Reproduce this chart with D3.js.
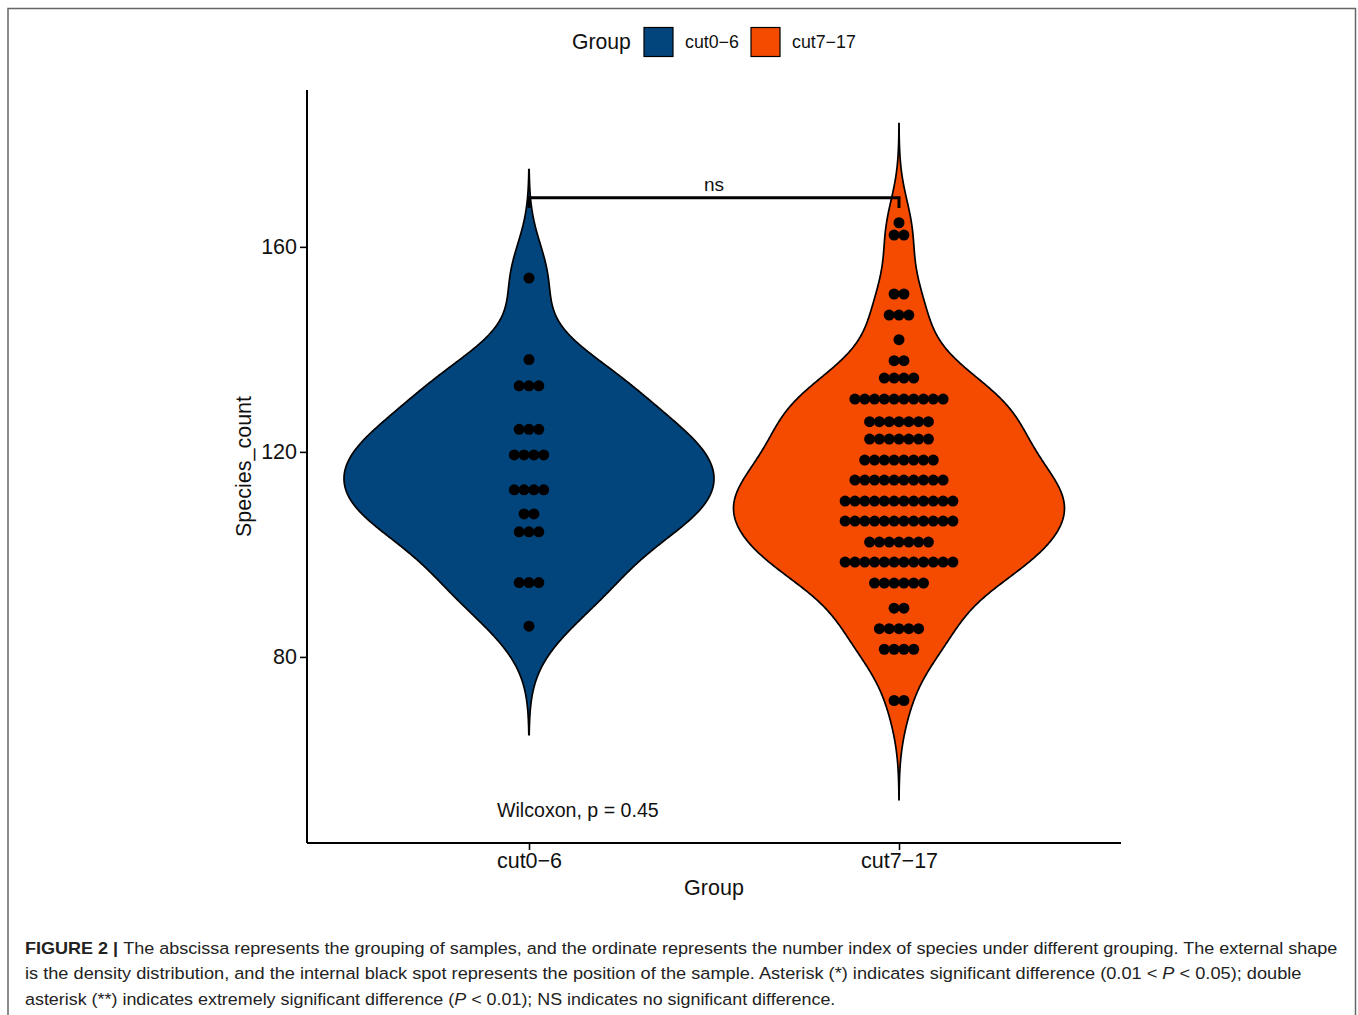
<!DOCTYPE html>
<html>
<head>
<meta charset="utf-8">
<script src="https://cdn.jsdelivr.net/npm/d3@7"></script>
<style>
  html, body { margin: 0; padding: 0; background: #fff; }
  svg { display: block; font-family: "Liberation Sans", Arial, sans-serif; }
</style>
</head>
<body>
<div id="app"></div>
<script>
// groups and colours
const groups = ['cut0-6', 'cut7-17'];
const groupLabels = ['cut0\u22126', 'cut7\u221217'];
const groupColors = ['#02457c', '#f44b00'];

// dot rows: binned Species_count value and how many samples sit in that bin
const rowsCut0 = [153.9, 138.0, 132.9, 124.4, 119.4, 112.6, 107.9, 104.4, 94.5, 86.0];
const countsCut0 = [1, 1, 3, 3, 4, 4, 2, 3, 3, 1];

const rowsCut7 = [164.7, 162.3, 150.8, 146.7, 141.9, 137.8, 134.4, 130.3, 125.9, 122.5, 118.4,
  114.5, 110.4, 106.5, 102.4, 98.5, 94.4, 89.5, 85.5, 81.5, 71.5];
const countsCut7 = [1, 2, 2, 3, 1, 2, 4, 10, 7, 7, 8, 10, 12, 12, 7, 12, 6, 2, 5, 4, 2];

const yTicks = [80, 120, 160];

// comparison bracket
const compareGroups = ['cut0-6', 'cut7-17'];
const compareLabel = 'ns';
const compareY = 169.6;
const compareTip = 2.0;
const testLabel = 'Wilcoxon, p = 0.45';
const testLabelY = 50.2;

const captionLines = [
  [['FIGURE 2 | ', 'b'], ['The abscissa represents the grouping of samples, and the ordinate represents the number index of species under different grouping. The external shape', '']],
  [['is the density distribution, and the internal black spot represents the position of the sample. Asterisk (*) indicates significant difference (0.01 < ', ''], ['P', 'i'], [' < 0.05); double', '']],
  [['asterisk (**) indicates extremely significant difference (', ''], ['P', 'i'], [' < 0.01); NS indicates no significant difference.', '']]
];
const captionWidths = [1314, 1277, 811];

const W = 1358, H = 1015;

const svg = d3.select('#app').append('svg')
  .attr('width', W)
  .attr('height', H);

// figure frame
svg.append('rect')
  .attr('x', 8).attr('y', 8.5)
  .attr('width', 1347.5).attr('height', 1020)
  .attr('fill', 'none')
  .attr('stroke', '#666')
  .attr('stroke-width', 1.5);

const x = d3.scalePoint()
  .domain(groups)
  .range([307, 1121])
  .padding(0.6);

const y = d3.scaleLinear()
  .domain([43.7, 190.6])
  .range([843, 90]);

//////////DENSITY//////////
function expand(rows, counts) {
  const out = [];
  rows.forEach((v, i) => { for (let k = 0; k < counts[i]; k++) out.push(v); });
  return out;
}

function nrd0(vals) {
  const s = vals.slice().sort(d3.ascending);
  const sd = d3.deviation(s);
  const iqr = (d3.quantile(s, 0.75) - d3.quantile(s, 0.25)) / 1.34;
  return 0.9 * Math.min(sd, iqr) * Math.pow(s.length, -0.2);
}

function kde(vals) {
  const bw = nrd0(vals);
  const lo = d3.min(vals) - 3 * bw, hi = d3.max(vals) + 3 * bw;
  const n = 512;
  const pts = [];
  for (let i = 0; i < n; i++) {
    const v = lo + (hi - lo) * i / (n - 1);
    let s = 0;
    for (const d of vals) {
      const z = (v - d) / bw;
      s += Math.exp(-0.5 * z * z);
    }
    pts.push({ v: v, d: s / (vals.length * bw * Math.sqrt(2 * Math.PI)) });
  }
  return pts;
}

const series = [
  { g: groups[0], rows: rowsCut0, counts: countsCut0, color: groupColors[0] },
  { g: groups[1], rows: rowsCut7, counts: countsCut7, color: groupColors[1] }
];
series.forEach(s => { s.dens = kde(expand(s.rows, s.counts)); });

const maxDens = d3.max(series, s => d3.max(s.dens, p => p.d));
const halfW = d3.scaleLinear().domain([0, maxDens]).range([0, x.step() / 2]);

//////////VIOLINS//////////
series.forEach(s => {
  const cx = x(s.g);
  const area = d3.area()
    .y(p => y(p.v))
    .x0(p => cx - halfW(p.d))
    .x1(p => cx + halfW(p.d));
  svg.append('path')
    .datum(s.dens)
    .attr('d', area)
    .attr('fill', s.color)
    .attr('stroke', '#000')
    .attr('stroke-width', 1.7);
});

//////////DOTS//////////
const dotR = 5.5;
const dotStep = 9.8;
series.forEach(s => {
  const cx = x(s.g);
  const dots = [];
  s.rows.forEach((v, i) => {
    const k = s.counts[i];
    for (let j = 0; j < k; j++) dots.push({ v: v, off: j - (k - 1) / 2 });
  });
  svg.append('g').selectAll('circle')
    .data(dots)
    .join('circle')
    .attr('cx', d => cx + d.off * dotStep)
    .attr('cy', d => y(d.v))
    .attr('r', dotR)
    .attr('fill', '#000');
});

//////////BRACKET//////////
const bx0 = x(compareGroups[0]), bx1 = x(compareGroups[1]);
svg.append('path')
  .attr('d', `M${bx0},${y(compareY - compareTip)}V${y(compareY)}H${bx1}V${y(compareY - compareTip)}`)
  .attr('fill', 'none')
  .attr('stroke', '#000')
  .attr('stroke-width', 3);

svg.append('text')
  .attr('x', (bx0 + bx1) / 2)
  .attr('y', y(compareY) - 7)
  .attr('text-anchor', 'middle')
  .attr('font-size', 19)
  .attr('fill', '#111')
  .text(compareLabel);

svg.append('text')
  .attr('x', x(groups[0]) - 32)
  .attr('y', y(testLabelY))
  .attr('dy', '0.35em')
  .attr('font-size', 19.6)
  .attr('fill', '#111')
  .text(testLabel);

//////////AXES//////////
const yAxis = svg.append('g')
  .attr('transform', 'translate(307,0)')
  .call(d3.axisLeft(y).tickValues(yTicks).tickSize(7).tickPadding(3));

const xAxis = svg.append('g')
  .attr('transform', 'translate(0,843)')
  .call(d3.axisBottom(x).tickSize(7).tickPadding(3).tickFormat((d, i) => groupLabels[i]));

[yAxis, xAxis].forEach(a => {
  a.select('.domain').attr('stroke', '#000').attr('stroke-width', 2);
  a.selectAll('.tick line').attr('stroke', '#000').attr('stroke-width', 1.6);
  a.selectAll('.tick text')
    .attr('font-size', 21.5)
    .attr('font-family', '"Liberation Sans", Arial, sans-serif')
    .attr('fill', '#111');
});
yAxis.select('.domain').attr('d', 'M0,90V843');
xAxis.select('.domain').attr('d', 'M307,0H1121');

svg.append('text')
  .attr('transform', 'translate(251,466.5) rotate(-90)')
  .attr('text-anchor', 'middle')
  .attr('font-size', 21.5)
  .attr('fill', '#111')
  .text('Species_count');

svg.append('text')
  .attr('x', 714)
  .attr('y', 895)
  .attr('text-anchor', 'middle')
  .attr('font-size', 21.5)
  .attr('fill', '#111')
  .text('Group');

//////////LEGEND//////////
const legend = svg.append('g');
legend.append('text')
  .attr('x', 572).attr('y', 42)
  .attr('dy', '0.35em')
  .attr('font-size', 21.2)
  .attr('fill', '#111')
  .text('Group');

const legendX = [644, 751];
legend.selectAll('rect')
  .data(groups)
  .join('rect')
  .attr('x', (d, i) => legendX[i])
  .attr('y', 27.5)
  .attr('width', 29)
  .attr('height', 29)
  .attr('fill', (d, i) => groupColors[i])
  .attr('stroke', '#000')
  .attr('stroke-width', 1.2);

legend.selectAll('text.lab')
  .data(groupLabels)
  .join('text')
  .attr('class', 'lab')
  .attr('x', (d, i) => legendX[i] + 41)
  .attr('y', 42)
  .attr('dy', '0.35em')
  .attr('font-size', 17.8)
  .attr('fill', '#111')
  .text(d => d);

//////////CAPTION//////////
const capY = [953.5, 979, 1004.5];
captionLines.forEach((line, i) => {
  const t = svg.append('text')
    .attr('font-size', 16.5)
    .attr('fill', '#222');
  line.forEach(([str, sty]) => {
    t.append('tspan')
      .attr('font-weight', sty === 'b' ? 'bold' : null)
      .attr('font-style', sty === 'i' ? 'italic' : null)
      .text(str);
  });
  const len = t.node().getComputedTextLength();
  t.attr('transform', `translate(25,${capY[i]}) scale(${captionWidths[i] / len},1)`);
});
</script>
</body>
</html>
